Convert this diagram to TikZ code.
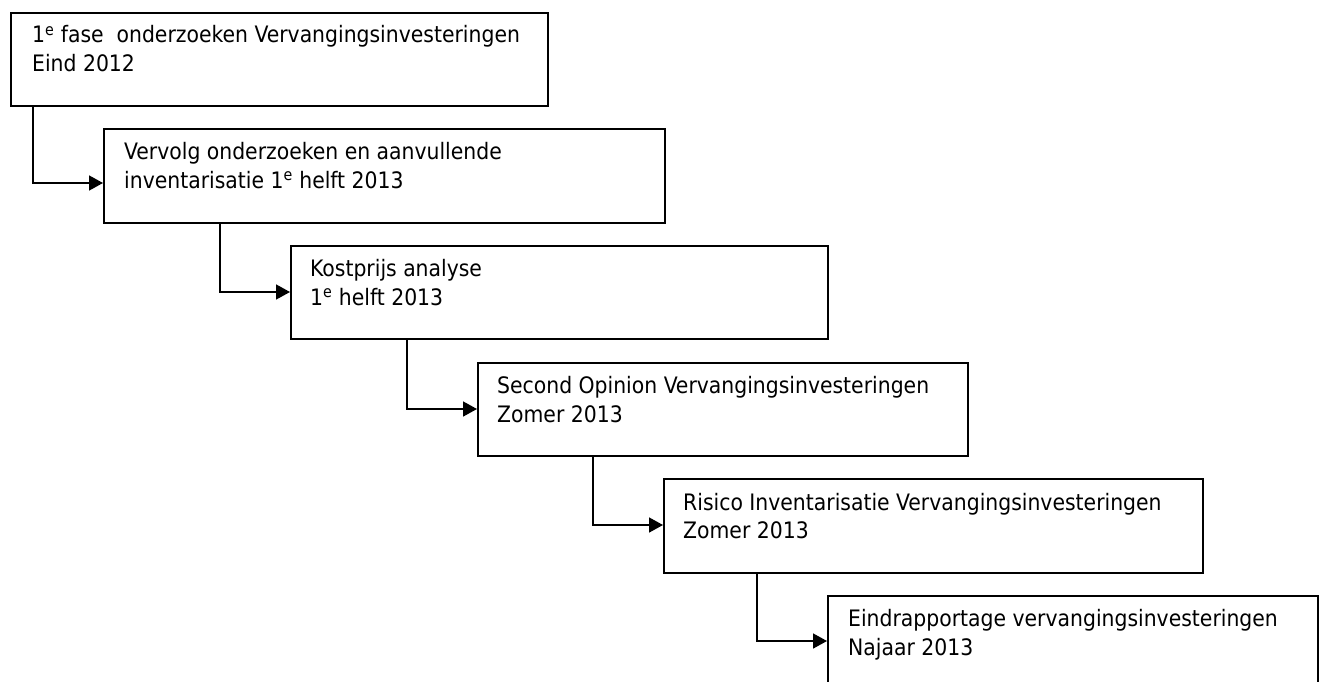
\documentclass[tikz,border=0pt]{standalone}
\usepackage{fontspec}
\setmainfont{DejaVu Sans Condensed}
\usetikzlibrary{arrows.meta,calc}
\newlength\refwidth
\settowidth\refwidth{\fontsize{10pt}{12pt}\selectfont Second Opinion Vervangingsinvesteringen}
\pgfmathsetmacro\txtsize{10*432/\refwidth}
\tikzset{
  stagebox/.style={draw=black, line width=1.8pt, fill=white, anchor=north west, minimum height=#1, inner sep=0pt},
  stagebox/.default=94pt,
  stagetext/.style={anchor=base west, inner sep=0pt, font=\fontsize{\txtsize pt}{29pt}\selectfont, text=black},
  conn/.style={draw=black, line width=1.6pt, -{Triangle[length=14pt,width=15pt]}}
}
\newcommand{\sth}{\textsuperscript{e}}
\begin{document}
\begin{tikzpicture}[x=1pt,y=-1pt]
\clip (0,0) rectangle (1324,682);
\fill[white] (0,0) rectangle (1324,682);
% boxes
\node[stagebox=93pt, minimum width=537pt] (b1) at (10,12) {};
\node[stagebox=94pt, minimum width=561pt] (b2) at (103,128) {};
\node[stagebox=93pt, minimum width=537pt] (b3) at (290,245) {};
\node[stagebox=93pt, minimum width=490pt] (b4) at (477,362) {};
\node[stagebox=94pt, minimum width=539pt] (b5) at (663,478) {};
\node[stagebox=94pt, minimum width=490pt] (b6) at (827,595) {};
% texts
\node[stagetext] (t1a) at ($(b1.north west)+(22,31)$) {1\sth{} fase~\ onderzoeken Vervangingsinvesteringen};
\node[stagetext] (t1b) at ($(b1.north west)+(22,60)$) {Eind 2012};
\node[stagetext] (t2a) at ($(b2.north west)+(21,31)$) {Vervolg onderzoeken en aanvullende};
\node[stagetext] (t2b) at ($(b2.north west)+(21,60)$) {inventarisatie 1\sth{} helft 2013};
\node[stagetext] (t3a) at ($(b3.north west)+(20,31)$) {Kostprijs analyse};
\node[stagetext] (t3b) at ($(b3.north west)+(20,60)$) {1\sth{} helft 2013};
\node[stagetext] (t4a) at ($(b4.north west)+(20,31)$) {Second Opinion Vervangingsinvesteringen};
\node[stagetext] (t4b) at ($(b4.north west)+(20,60)$) {Zomer 2013};
\node[stagetext] (t5a) at ($(b5.north west)+(20,32)$) {Risico Inventarisatie Vervangingsinvesteringen};
\node[stagetext] (t5b) at ($(b5.north west)+(20,60)$) {Zomer 2013};
\node[stagetext] (t6a) at ($(b6.north west)+(21,31)$) {Eindrapportage vervangingsinvesteringen};
\node[stagetext] (t6b) at ($(b6.north west)+(21,60)$) {Najaar 2013};
% connectors
\draw[conn] ([xshift=23pt]b1.south west) |- ([yshift=-55pt]b2.north west);
\draw[conn] ([xshift=117pt]b2.south west) |- ([yshift=-47pt]b3.north west);
\draw[conn] ([xshift=117pt]b3.south west) |- ([yshift=-47pt]b4.north west);
\draw[conn] ([xshift=116pt]b4.south west) |- ([yshift=-47pt]b5.north west);
\draw[conn] ([xshift=94pt]b5.south west) |- ([yshift=-46pt]b6.north west);
\end{tikzpicture}
\end{document}
